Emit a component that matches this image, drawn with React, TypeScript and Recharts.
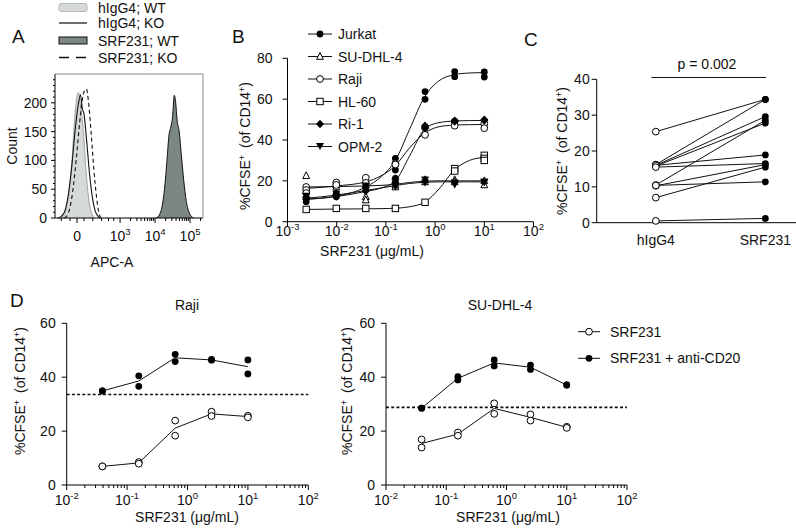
import {
  ComposedChart,
  Line,
  Area,
  Scatter,
  XAxis,
  YAxis,
  ReferenceLine,
} from "recharts";

const W = 796;
const H = 532;
const FONT = "'Liberation Sans', Arial, Helvetica, sans-serif";

// ---------- Panel A: APC-A histograms ----------
// x is in display units of the biex axis: 0 = "0", 1.23 = 10^3, 2.23 = 10^4, 3.23 = 10^5
const A_X_MAJOR = [0, 1.23, 2.23, 3.23];
const A_X_LABELS = [["0", ""], ["10", "3"], ["10", "4"], ["10", "5"]];
const A_X_MINOR = [
  -0.45, -0.2, 0.2, 0.45, 0.7, 0.9, 1.05, 1.53, 1.71, 1.83, 1.93, 2.01, 2.08,
  2.13, 2.18, 2.53, 2.71, 2.83, 2.93, 3.01, 3.08, 3.13, 3.18, 3.53,
];
const A_Y_MAJOR = [0, 50, 100, 150, 200];
const A_Y_MINOR = [10, 20, 30, 40, 60, 70, 80, 90, 110, 120, 130, 140, 160, 170, 180, 190, 210, 220, 230, 240];

const HIST_IGG4_WT = [
  [-0.45, 0], [-0.35, 8], [-0.25, 35], [-0.15, 95], [-0.07, 170], [0, 212],
  [0.04, 218], [0.1, 195], [0.18, 150], [0.26, 80], [0.34, 30], [0.42, 8], [0.48, 0],
];
const HIST_IGG4_KO = [
  [-0.55, 0], [-0.45, 3], [-0.35, 12], [-0.25, 40], [-0.15, 90], [-0.05, 155],
  [0.03, 195], [0.1, 214], [0.15, 190], [0.2, 180], [0.28, 130], [0.36, 75],
  [0.44, 35], [0.52, 12], [0.6, 3], [0.66, 0],
];
const HIST_SRF_WT = [
  [2.26, 0], [2.35, 5], [2.43, 20], [2.5, 50], [2.57, 100], [2.63, 145],
  [2.68, 158], [2.73, 175], [2.78, 213], [2.82, 200], [2.86, 170], [2.92, 150],
  [2.98, 110], [3.05, 65], [3.12, 30], [3.2, 10], [3.28, 2], [3.33, 0],
];
const HIST_SRF_KO = [
  [-0.36, 0], [-0.25, 8], [-0.15, 35], [-0.05, 85], [0.05, 150], [0.15, 205],
  [0.22, 222], [0.27, 224], [0.33, 200], [0.4, 150], [0.48, 85], [0.56, 35],
  [0.62, 10], [0.68, 0],
];

// ---------- Panel B: dose response ----------
const B_X_TICKS = [0.001, 0.01, 0.1, 1, 10, 100];
const B_CONC = [0.0024, 0.0098, 0.039, 0.156, 0.625, 2.5, 10];
const JURKAT_REPS = [[11.4, 9.8], [13.9, 12.2], [19.1, 16.5], [31, 25.3, 21.2], [63.7, 59.9], [73.5, 71], [73.3, 70.8]];
const SUDHL4_REPS = [[22.5, 15], [18, 17], [12.2, 10.6], [17, 18], [20.5, 19.5], [20.5, 19.5], [20, 18]];
const RAJI_REPS = [[17, 15.5, 14], [19.2, 18], [21.5, 19], [28.5, 28], [46, 42.5], [49, 47], [48, 45.8]];
const HL60_REPS = [[6], [6.5], [6.5], [6.5], [9.5], [26, 24.8], [32.5, 31, 30]];
const RI1_REPS = [[12, 11], [13, 12.5], [17, 15], [21, 19], [47, 46], [49.5, 49], [50, 49.5]];
const OPM2_REPS = [[12.5, 10.5], [13.5, 12], [17.5, 15.5], [18.5, 17], [20.5, 19], [19, 18], [19.5, 19]];

const B_FIT_X = [0.0024, 0.0098, 0.039, 0.08, 0.156, 0.3, 0.625, 1.2, 2.5, 5, 10];
const JURKAT_FIT = [11, 12.5, 17, 22, 30, 45, 61.5, 69, 72, 72.8, 73];
const SUDHL4_FIT = [17, 17.2, 17.5, 17.8, 18.3, 19.2, 19.8, 20, 20, 20, 20];
const RAJI_FIT = [16.3, 17.5, 19.5, 22.5, 27.5, 36, 43.5, 46.5, 47.3, 47.5, 47.6];
const HL60_FIT = [6, 6.2, 6.3, 6.4, 6.6, 7.3, 9.6, 16, 25.5, 30, 31.5];
const RI1_FIT = [11, 12.3, 14.8, 16.5, 20, 32, 45.5, 48.5, 49.3, 49.5, 49.6];
const OPM2_FIT = [11.5, 13, 15.3, 16.5, 17.7, 18.7, 19.3, 19.5, 19.5, 19.5, 19.5];

const B_NAMES = ["Jurkat", "SU-DHL-4", "Raji", "HL-60", "Ri-1", "OPM-2"];
const B_KINDS = ["dot", "tri", "ring", "sq", "dia", "tdown"];
const B_REPS = [JURKAT_REPS, SUDHL4_REPS, RAJI_REPS, HL60_REPS, RI1_REPS, OPM2_REPS];
const B_FITS = [JURKAT_FIT, SUDHL4_FIT, RAJI_FIT, HL60_FIT, RI1_FIT, OPM2_FIT];

// ---------- Panel C: paired donors ----------
const C_GROUPS = ["hIgG4", "SRF231"];
const C_HIGG4 = [25.4, 16.2, 10.5, 16.0, 15.8, 16.0, 15.5, 10.3, 10.4, 7.0, 0.5];
const C_SRF231 = [34.4, 34.4, 28.6, 29.6, 27.8, 18.9, 16.5, 16.2, 11.4, 15.5, 1.2];

// ---------- Panel D: with / without anti-CD20 ----------
const D_X_MAJOR = [0.01, 0.1, 1, 10, 100];
const D_MINOR_FACTORS = [2, 3, 4, 5, 6, 7, 8, 9];
const D_CONC = [0.039, 0.156, 0.625, 2.5, 10];
const RAJI_COMBO_REPS = [[34.9, 34.9], [40.5, 36.6], [48.5, 45.8], [46.6, 46.3], [46.4, 41.2]];
const RAJI_COMBO_MEAN = [34.9, 38.6, 47.2, 46.4, 43.9];
const RAJI_MONO_REPS = [[6.9, 6.9], [8.5, 7.9], [23.9, 18.3], [27.2, 25.6], [25.7, 25.1]];
const RAJI_MONO_MEAN = [6.9, 8.2, 21.1, 26.4, 25.4];
const RAJI_BASELINE = 33.6;
const SU_COMBO_REPS = [[28.5, 28.5], [40.2, 39.0], [46.4, 44.2], [44.5, 42.9], [37.1, 37.1]];
const SU_COMBO_MEAN = [28.5, 39.6, 45.3, 43.7, 37.1];
const SU_MONO_REPS = [[16.9, 13.9], [19.5, 18.3], [30.3, 26.4], [26.2, 23.9], [21.6, 21.2]];
const SU_MONO_MEAN = [15.4, 18.9, 28.4, 25.1, 21.4];
const SU_BASELINE = 28.8;

// ---------- helpers ----------
const box = (l: number, t: number, r: number, b: number) => ({
  left: l - 1,
  top: t,
  right: W - r,
  bottom: H - b - 1,
});
const chartStyle = { position: "absolute" as const, left: 0, top: 0 };
const tickText = { fill: "#111", fontSize: 14, fontFamily: FONT };

const pairs = (arr: number[][]) => arr.map(([u, c]) => ({ u, c }));
const repPoints = (xs: number[], reps: number[][]) =>
  reps.flatMap((vals, i) => vals.map((y) => ({ x: xs[i], y })));
const linePoints = (xs: number[], ys: number[]) => xs.map((x, i) => ({ x, y: ys[i] }));

const Marker = ({ kind, cx, cy }: { kind: string; cx: number; cy: number }) => {
  const s = 3.4;
  switch (kind) {
    case "dot":
      return <circle cx={cx} cy={cy} r={s} fill="#000" />;
    case "ring":
      return <circle cx={cx} cy={cy} r={s} fill="#fff" stroke="#000" strokeWidth={1} />;
    case "tri":
      return (
        <polygon
          points={`${cx},${cy - s - 0.6} ${cx + s},${cy + s - 0.6} ${cx - s},${cy + s - 0.6}`}
          fill="#fff"
          stroke="#000"
          strokeWidth={1}
        />
      );
    case "sq":
      return <rect x={cx - 3.2} y={cy - 3.2} width={6.4} height={6.4} fill="#fff" stroke="#000" strokeWidth={1} />;
    case "dia":
      return <polygon points={`${cx},${cy - 4.2} ${cx + 4},${cy} ${cx},${cy + 4.2} ${cx - 4},${cy}`} fill="#000" />;
    default:
      return (
        <polygon points={`${cx - 4},${cy - 3.4} ${cx + 4},${cy - 3.4} ${cx},${cy + 3.6}`} fill="#000" />
      );
  }
};

const SupText = ({ x, y, base, exp, anchor = "middle", size = 14 }: any) => (
  <text x={x} y={y} textAnchor={anchor} fontSize={size} fontFamily={FONT} fill="#111">
    {base}
    {exp ? (
      <tspan dy={-6} fontSize={9.5}>
        {exp}
      </tspan>
    ) : null}
  </text>
);

const LogTickX = ({ x, payload, axisY, labelY, majors }: any) => {
  const v = payload.value;
  const major = majors.some((m: number) => Math.abs(m - v) < 1e-9);
  return (
    <g>
      <line x1={x} x2={x} y1={axisY} y2={axisY + (major ? 5 : 3)} stroke="#000" />
      {major && <SupText x={x} y={labelY} base="10" exp={String(Math.round(Math.log10(v)))} />}
    </g>
  );
};

const ATickX = ({ x, payload }: any) => {
  const i = A_X_MAJOR.indexOf(payload.value);
  return (
    <g>
      <line x1={x} x2={x} y1={218} y2={218 + (i >= 0 ? 5 : 3)} stroke="#000" />
      {i >= 0 && <SupText x={x} y={240.5} base={A_X_LABELS[i][0]} exp={A_X_LABELS[i][1]} />}
    </g>
  );
};

const ATickY = ({ y, payload }: any) => {
  const major = A_Y_MAJOR.includes(payload.value);
  return (
    <g>
      <line x1={55} x2={55 - (major ? 4 : 2)} y1={y} y2={y} stroke="#000" />
      {major && (
        <text x={47} y={y + 5} textAnchor="end" fontSize={14} fontFamily={FONT} fill="#111">
          {payload.value}
        </text>
      )}
    </g>
  );
};

const CfseLabel = ({ x, y }: { x: number; y: number }) => (
  <text
    transform={`rotate(-90 ${x} ${y})`}
    x={x}
    y={y + 5}
    textAnchor="middle"
    fontSize={14}
    fontFamily={FONT}
    fill="#111"
  >
    %CFSE
    <tspan dy={-5} fontSize={9}>+</tspan>
    <tspan dy={5} dx={7}>(of CD14</tspan>
    <tspan dy={-5} fontSize={9}>+</tspan>
    <tspan dy={5}>)</tspan>
  </text>
);

// ---------- panels ----------
const PanelA = () => (
  <ComposedChart width={W} height={H} margin={box(55, 74, 203, 218)} style={chartStyle}>
    <XAxis
      type="number"
      dataKey="u"
      domain={[-0.63, 3.6]}
      allowDataOverflow
      ticks={[...A_X_MAJOR, ...A_X_MINOR]}
      interval={0}
      tickLine={false}
      height={1}
      stroke="#000"
      tick={(p: any) => <ATickX {...p} />}
    />
    <YAxis
      type="number"
      domain={[0, 250]}
      ticks={[...A_Y_MAJOR, ...A_Y_MINOR]}
      interval={0}
      tickLine={false}
      width={1}
      stroke="#000"
      tick={(p: any) => <ATickY {...p} />}
    />
    <Area data={pairs(HIST_IGG4_WT)} dataKey="c" type="monotone" stroke="#9ea4a3" strokeWidth={1} fill="#d5dad9" fillOpacity={1} isAnimationActive={false} />
    <Area data={pairs(HIST_SRF_WT)} dataKey="c" type="monotone" stroke="#111" strokeWidth={1} fill="#7c8784" fillOpacity={1} isAnimationActive={false} />
    <Line data={pairs(HIST_IGG4_KO)} dataKey="c" type="monotone" stroke="#111" strokeWidth={1.1} dot={false} isAnimationActive={false} />
    <Line data={pairs(HIST_SRF_KO)} dataKey="c" type="monotone" stroke="#111" strokeWidth={1.1} strokeDasharray="4 3" dot={false} isAnimationActive={false} />
  </ComposedChart>
);

const PanelB = () => (
  <ComposedChart width={W} height={H} margin={box(287.5, 58.3, 533.5, 221.7)} style={chartStyle}>
    <XAxis
      type="number"
      dataKey="x"
      scale="log"
      domain={[0.001, 100]}
      allowDataOverflow
      ticks={B_X_TICKS}
      interval={0}
      tickLine={false}
      height={1}
      stroke="#000"
      tick={(p: any) => <LogTickX {...p} axisY={221.7} labelY={235.5} majors={B_X_TICKS} />}
    />
    <YAxis type="number" dataKey="y" domain={[0, 80]} ticks={[0, 20, 40, 60, 80]} interval={0} width={1} tickSize={5} tickMargin={10} stroke="#000" tick={tickText} />
    {B_FITS.map((fit, i) => (
      <Line key={`fit-${i}`} data={linePoints(B_FIT_X, fit)} dataKey="y" type="monotone" stroke="#111" strokeWidth={1} dot={false} isAnimationActive={false} />
    ))}
    {B_REPS.map((reps, i) => (
      <Scatter
        key={`pts-${i}`}
        data={repPoints(B_CONC, reps)}
        isAnimationActive={false}
        shape={(p: any) => <Marker kind={B_KINDS[i]} cx={p.cx} cy={p.cy} />}
      />
    ))}
  </ComposedChart>
);

const PanelC = () => (
  <ComposedChart width={W} height={H} margin={box(596.7, 79.3, 796, 222.7)} style={chartStyle}>
    <XAxis
      type="number"
      dataKey="x"
      domain={[-0.54, 1.28]}
      allowDataOverflow
      ticks={[0, 1]}
      interval={0}
      tickLine={false}
      tickSize={0}
      tickMargin={12}
      height={1}
      stroke="#000"
      tick={tickText}
      tickFormatter={(v: number) => C_GROUPS[v]}
    />
    <YAxis type="number" dataKey="y" domain={[0, 40]} ticks={[0, 10, 20, 30, 40]} interval={0} width={1} tickSize={5} tickMargin={2} stroke="#000" tick={tickText} />
    <ReferenceLine
      segment={[{ x: -0.04, y: 40.5 }, { x: 1.006, y: 40.5 }]}
      ifOverflow="visible"
      stroke="#111"
      strokeWidth={1}
    />
    {C_HIGG4.map((a, i) => (
      <Line
        key={`pair-${i}`}
        data={[{ x: 0, y: a }, { x: 1, y: C_SRF231[i] }]}
        dataKey="y"
        type="linear"
        stroke="#111"
        strokeWidth={1}
        dot={false}
        isAnimationActive={false}
      />
    ))}
    <Scatter data={C_HIGG4.map((y) => ({ x: 0, y }))} isAnimationActive={false} shape={(p: any) => <Marker kind="ring" cx={p.cx} cy={p.cy} />} />
    <Scatter data={C_SRF231.map((y) => ({ x: 1, y }))} isAnimationActive={false} shape={(p: any) => <Marker kind="dot" cx={p.cx} cy={p.cy} />} />
  </ComposedChart>
);

const D_TICKS = [...D_X_MAJOR, ...D_X_MAJOR.slice(0, 4).flatMap((d) => D_MINOR_FACTORS.map((f) => d * f))];

const PanelD = ({ left, right, comboReps, comboMean, monoReps, monoMean, baseline }: any) => (
  <ComposedChart width={W} height={H} margin={box(left, 323.3, right, 485)} style={chartStyle}>
    <XAxis
      type="number"
      dataKey="x"
      scale="log"
      domain={[0.01, 100]}
      allowDataOverflow
      ticks={D_TICKS}
      interval={0}
      tickLine={false}
      height={1}
      stroke="#000"
      tick={(p: any) => <LogTickX {...p} axisY={485} labelY={505} majors={D_X_MAJOR} />}
    />
    <YAxis type="number" dataKey="y" domain={[0, 60]} ticks={[0, 20, 40, 60]} interval={0} width={1} tickSize={5} tickMargin={6} stroke="#000" tick={tickText} />
    <ReferenceLine y={baseline} stroke="#111" strokeWidth={1.6} strokeDasharray="3 2.2" />
    <Line data={linePoints(D_CONC, comboMean)} dataKey="y" type="linear" stroke="#111" strokeWidth={1} dot={false} isAnimationActive={false} />
    <Line data={linePoints(D_CONC, monoMean)} dataKey="y" type="linear" stroke="#111" strokeWidth={1} dot={false} isAnimationActive={false} />
    <Scatter data={repPoints(D_CONC, monoReps)} isAnimationActive={false} shape={(p: any) => <Marker kind="ring" cx={p.cx} cy={p.cy} />} />
    <Scatter data={repPoints(D_CONC, comboReps)} isAnimationActive={false} shape={(p: any) => <Marker kind="dot" cx={p.cx} cy={p.cy} />} />
  </ComposedChart>
);

// ---------- text, legends, frame ----------
const Overlay = () => {
  const t = { fontFamily: FONT, fontSize: 14, fill: "#111" };
  const letter = { fontFamily: FONT, fontSize: 19, fill: "#111" };
  const aRows = [7.5, 23, 40.5, 57.5];
  const aNames = ["hIgG4; WT", "hIgG4; KO", "SRF231; WT", "SRF231; KO"];
  const bRows = [34, 56.5, 79, 101.5, 124, 146.5];
  const dRows = [331.7, 358.3];
  return (
    <svg width={W} height={H} style={{ position: "absolute", left: 0, top: 0, pointerEvents: "none" }}>
      {/* panel letters */}
      <text x={12} y={43} {...letter}>A</text>
      <text x={232} y={43} {...letter}>B</text>
      <text x={524} y={46} {...letter}>C</text>
      <text x={10} y={307} {...letter}>D</text>

      {/* panel A frame, legend and titles */}
      <line x1={55} x2={203} y1={74} y2={74} stroke="#888" strokeWidth={1} />
      <line x1={203} x2={203} y1={74} y2={218} stroke="#888" strokeWidth={1} />
      <rect x={59} y={aRows[0] - 4} width={28} height={8} rx={2} fill="#d5dad9" stroke="#b5bab9" />
      <line x1={59} x2={87} y1={aRows[1]} y2={aRows[1]} stroke="#111" strokeWidth={1.2} />
      <rect x={59} y={aRows[2] - 3.5} width={28} height={7} fill="#7c8784" stroke="#111" />
      <line x1={59} x2={87} y1={aRows[3]} y2={aRows[3]} stroke="#111" strokeWidth={1.3} strokeDasharray="10 7" />
      {aNames.map((n, i) => (
        <text key={n} x={98} y={aRows[i] + 5} {...t}>{n}</text>
      ))}
      <text transform="rotate(-90 12 146)" x={12} y={151} textAnchor="middle" {...t}>Count</text>
      <text x={112} y={267} textAnchor="middle" {...t}>APC-A</text>

      {/* panel B legend and titles */}
      {B_NAMES.map((n, i) => (
        <g key={n}>
          <line x1={308} x2={332} y1={bRows[i]} y2={bRows[i]} stroke="#111" strokeWidth={1} />
          <Marker kind={B_KINDS[i]} cx={320} cy={bRows[i]} />
          <text x={338} y={bRows[i] + 5} {...t}>{n}</text>
        </g>
      ))}
      <CfseLabel x={245} y={146} />
      <text x={372} y={256} textAnchor="middle" {...t}>SRF231 (μg/mL)</text>

      {/* panel C */}
      <CfseLabel x={562} y={151} />
      <text x={707} y={69} textAnchor="middle" {...t}>p = 0.002</text>

      {/* panel D */}
      <text x={187} y={310} textAnchor="middle" {...t}>Raji</text>
      <text x={500} y={310} textAnchor="middle" {...t}>SU-DHL-4</text>
      <CfseLabel x={20} y={391} />
      <CfseLabel x={347} y={391} />
      <text x={187} y={522} textAnchor="middle" {...t}>SRF231 (μg/mL)</text>
      <text x={508} y={522} textAnchor="middle" {...t}>SRF231 (μg/mL)</text>
      {["SRF231", "SRF231 + anti-CD20"].map((n, i) => (
        <g key={n}>
          <line x1={578} x2={600} y1={dRows[i]} y2={dRows[i]} stroke="#111" strokeWidth={1} />
          <Marker kind={i === 0 ? "ring" : "dot"} cx={589} cy={dRows[i]} />
          <text x={610} y={dRows[i] + 5} {...t}>{n}</text>
        </g>
      ))}
    </svg>
  );
};

export default function App() {
  return (
    <div style={{ position: "absolute", left: 0, top: 0, width: W, height: H, background: "#fff", fontFamily: FONT }}>
      <PanelA />
      <PanelB />
      <PanelC />
      <PanelD
        left={66.7}
        right={308.3}
        comboReps={RAJI_COMBO_REPS}
        comboMean={RAJI_COMBO_MEAN}
        monoReps={RAJI_MONO_REPS}
        monoMean={RAJI_MONO_MEAN}
        baseline={RAJI_BASELINE}
      />
      <PanelD
        left={386}
        right={627}
        comboReps={SU_COMBO_REPS}
        comboMean={SU_COMBO_MEAN}
        monoReps={SU_MONO_REPS}
        monoMean={SU_MONO_MEAN}
        baseline={SU_BASELINE}
      />
      <Overlay />
    </div>
  );
}
